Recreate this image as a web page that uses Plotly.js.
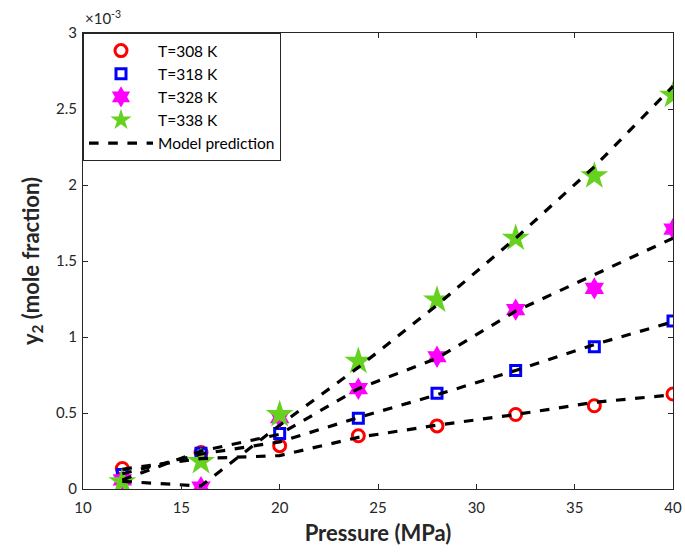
<!DOCTYPE html>
<html>
<head>
<meta charset="utf-8">
<script src="https://cdn.plot.ly/plotly-3.0.1.min.js"></script>
<style>html,body{margin:0;padding:0;background:#fff;}#chart{width:685px;height:556px;}</style>
</head>
<body>
<div id="chart"></div>
<script>
// Pressure (MPa)
var pressure = [12, 16, 20, 24, 28, 32, 36, 40];
// Experimental solubility y2 (units of 1e-3)
var exp308 = [0.135, 0.24, 0.285, 0.35, 0.415, 0.49, 0.548, 0.625];
var exp318 = [0.095, 0.235, 0.365, 0.465, 0.63, 0.78, 0.936, 1.105];
var exp328 = [0.06, 0.012, 0.47, 0.66, 0.87, 1.18, 1.32, 1.71];
var exp338 = [0.048, 0.18, 0.49, 0.84, 1.243, 1.65, 2.06, 2.59];
// Model prediction (units of 1e-3)
var mod308 = [0.13, 0.2, 0.22, 0.34, 0.42, 0.49, 0.57, 0.62];
var mod318 = [0.1, 0.23, 0.31, 0.47, 0.62, 0.78, 0.95, 1.1];
var mod328 = [0.06, 0.25, 0.36, 0.66, 0.86, 1.17, 1.41, 1.65];
var mod338 = [0.05, 0.02, 0.42, 0.8, 1.21, 1.65, 2.12, 2.65];

var labels = ['T=308 K', 'T=318 K', 'T=328 K', 'T=338 K'];
var modelLabel = 'Model prediction';
var xTicks = [10, 15, 20, 25, 30, 35, 40];
var yTicks = [0, 0.5, 1, 1.5, 2, 2.5, 3];

var font = 'Lato, "Open Sans", sans-serif';

var traces = [
  {x: pressure, y: exp308, name: labels[0], mode: 'markers', type: 'scatter',
   marker: {symbol: 'circle-open', size: 12, color: '#ff0000', line: {width: 3, color: '#ff0000'}}},
  {x: pressure, y: exp318, name: labels[1], mode: 'markers', type: 'scatter',
   marker: {symbol: 'square-open', size: 10, color: '#0000ff', line: {width: 3, color: '#0000ff'}}},
  {x: pressure, y: exp328, name: labels[2], mode: 'markers', type: 'scatter',
   marker: {symbol: 'hexagram', size: 17, color: '#ff00ff', line: {width: 0}}},
  {x: pressure, y: exp338, name: labels[3], mode: 'markers', type: 'scatter',
   marker: {symbol: 'star', size: 21, color: '#66d11f', line: {width: 0}}}
];
var models = [mod308, mod318, mod328, mod338];
models.forEach(function (m, i) {
  traces.push({x: pressure, y: m, name: modelLabel, mode: 'lines', type: 'scatter',
    showlegend: i === 0, line: {color: '#000', width: 3.2, dash: 'dash'}});
});

var layout = {
  width: 685, height: 556,
  margin: {l: 83, r: 12, t: 33, b: 67},
  paper_bgcolor: '#fff', plot_bgcolor: '#fff',
  font: {family: font, size: 15, color: '#262626'},
  showlegend: true,
  legend: {x: 0, y: 1, xanchor: 'left', yanchor: 'top', bgcolor: '#fff',
    bordercolor: '#262626', borderwidth: 1, font: {size: 15.5, color: '#000'},
    tracegroupgap: 0, itemwidth: 64},
  xaxis: {range: [10, 40], tickvals: xTicks, ticks: 'inside', ticklen: 5,
    tickcolor: '#262626', showline: true, linecolor: '#262626', linewidth: 1, mirror: 'ticks',
    showgrid: false, zeroline: false, ticklabelstandoff: 5,
    title: {text: 'Pressure (MPa)', font: {size: 22, color: '#262626', weight: 'bold'}, standoff: 10}},
  yaxis: {range: [0, 3], tickvals: yTicks, ticktext: yTicks.map(String), ticks: 'inside', ticklen: 5,
    tickcolor: '#262626', showline: true, linecolor: '#262626', linewidth: 1, mirror: 'ticks',
    showgrid: false, zeroline: false, ticklabelstandoff: 2,
    title: {text: 'y<sub>2</sub> (mole fraction)', font: {size: 22, color: '#262626', weight: 'bold'}, standoff: 10}},
  annotations: [{xref: 'paper', yref: 'paper', x: 0, y: 1, xanchor: 'left', yanchor: 'bottom',
    yshift: 4, showarrow: false, text: '×10<sup>-3</sup>', font: {size: 15, color: '#262626'}}]
};
Plotly.newPlot('chart', traces, layout, {displayModeBar: false, staticPlot: true});
</script>
</body>
</html>
